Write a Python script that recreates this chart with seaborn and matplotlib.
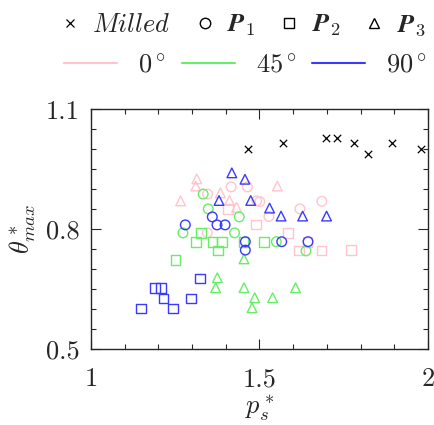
import numpy as np
import pandas as pd
import matplotlib
matplotlib.use('Agg')
import matplotlib.pyplot as plt
from matplotlib.lines import Line2D
from matplotlib.ticker import MultipleLocator, FixedLocator, FormatStrFormatter
import seaborn as sns

# Milled reference points
milled_x = [1.465, 1.571, 1.697, 1.730, 1.780, 1.822, 1.894, 1.978]
milled_y = [1.001, 1.016, 1.029, 1.029, 1.016, 0.988, 1.016, 1.001]

# P1 (circles)
p1_0_x = [1.346, 1.416, 1.464, 1.492, 1.501, 1.620, 1.685, 1.528, 1.345]
p1_0_y = [0.888, 0.906, 0.906, 0.871, 0.869, 0.851, 0.870, 0.832, 0.791]
p1_45_x = [1.333, 1.348, 1.440, 1.273, 1.426, 1.550, 1.638]
p1_45_y = [0.888, 0.851, 0.831, 0.791, 0.791, 0.769, 0.746]
p1_90_x = [1.360, 1.280, 1.374, 1.398, 1.458, 1.458, 1.566, 1.644]
p1_90_y = [0.831, 0.811, 0.811, 0.811, 0.769, 0.748, 0.769, 0.769]

# P2 (squares)
p2_0_x = [1.407, 1.490, 1.585, 1.618, 1.684, 1.772, 1.643]
p2_0_y = [0.851, 0.812, 0.791, 0.747, 0.747, 0.748, 0.769]
p2_45_x = [1.326, 1.312, 1.361, 1.389, 1.377, 1.251, 1.453, 1.514]
p2_45_y = [0.791, 0.769, 0.769, 0.769, 0.747, 0.724, 0.769, 0.769]
p2_90_x = [1.323, 1.191, 1.207, 1.215, 1.297, 1.149, 1.243]
p2_90_y = [0.677, 0.654, 0.654, 0.627, 0.627, 0.602, 0.602]

# P3 (triangles)
p3_0_x = [1.314, 1.311, 1.266, 1.384, 1.411, 1.432, 1.553]
p3_0_y = [0.926, 0.908, 0.871, 0.891, 0.872, 0.855, 0.908]
p3_45_x = [1.454, 1.375, 1.370, 1.454, 1.486, 1.539, 1.607, 1.478]
p3_45_y = [0.726, 0.679, 0.654, 0.654, 0.629, 0.629, 0.654, 0.604]
p3_90_x = [1.418, 1.457, 1.380, 1.474, 1.530, 1.564, 1.628, 1.699]
p3_90_y = [0.941, 0.925, 0.872, 0.872, 0.853, 0.833, 0.833, 0.833]

angles = ['0', '45', '90']
shapes = ['P1', 'P2', 'P3']
angle_colors = {'0': '#ffc4cc', '45': '#66ee66', '90': '#3a3aff'}
shape_markers = {'P1': 'o', 'P2': 's', 'P3': '^'}

groups = {
    ('P1', '0'): (p1_0_x, p1_0_y), ('P1', '45'): (p1_45_x, p1_45_y), ('P1', '90'): (p1_90_x, p1_90_y),
    ('P2', '0'): (p2_0_x, p2_0_y), ('P2', '45'): (p2_45_x, p2_45_y), ('P2', '90'): (p2_90_x, p2_90_y),
    ('P3', '0'): (p3_0_x, p3_0_y), ('P3', '45'): (p3_45_x, p3_45_y), ('P3', '90'): (p3_90_x, p3_90_y),
}

rows = []
for (shape, angle), (xs, ys) in groups.items():
    for xv, yv in zip(xs, ys):
        rows.append({'ps': xv, 'theta': yv, 'shape': shape, 'angle': angle})
df = pd.DataFrame(rows)

sns.set_style('ticks')
plt.rcParams['font.family'] = 'serif'
plt.rcParams['font.serif'] = ['cmr10', 'DejaVu Serif']
plt.rcParams['mathtext.fontset'] = 'cm'
plt.rcParams['axes.formatter.use_mathtext'] = True
plt.rcParams['axes.unicode_minus'] = False

fig = plt.figure(figsize=(4.35, 4.25), dpi=100)
ax = fig.add_axes([0.209, 0.178, 0.775, 0.565])

# angle order for drawing: 0 first, then 45, then 90
for angle in angles:
    for shape in shapes:
        sub = df[(df['shape'] == shape) & (df['angle'] == angle)]
        sns.scatterplot(data=sub, x='ps', y='theta', marker=shape_markers[shape], s=48,
                        color=angle_colors[angle], facecolors='none',
                        edgecolor=angle_colors[angle], linewidth=1.0, ax=ax, legend=False)

sns.scatterplot(x=milled_x, y=milled_y, marker='x', s=28, color='black', linewidth=0.9, ax=ax, legend=False)

ax.set_xlim(1, 2)
ax.set_ylim(0.5, 1.1)
ax.xaxis.set_major_locator(FixedLocator([1, 1.5, 2]))
ax.xaxis.set_minor_locator(MultipleLocator(0.1))
ax.yaxis.set_major_locator(FixedLocator([0.5, 0.8, 1.1]))
ax.yaxis.set_minor_locator(MultipleLocator(0.05))
ax.xaxis.set_major_formatter(FormatStrFormatter('%g'))
ax.yaxis.set_major_formatter(FormatStrFormatter('%g'))
ax.tick_params(which='both', direction='in', top=True, right=True, width=0.8, labelsize=19)
ax.tick_params(which='major', length=7)
ax.tick_params(which='minor', length=3.5)
ax.tick_params(axis='x', which='major', pad=13)
ax.tick_params(axis='y', which='major', pad=8)
for sp in ax.spines.values():
    sp.set_linewidth(1.0)

ax.set_xlabel(r'$p^*_s$', fontsize=19, labelpad=2)
ax.set_ylabel(r'$\theta^*_{max}$', fontsize=19, labelpad=6)

shape_handles = [
    Line2D([], [], marker='x', color='black', linestyle='none', markersize=6, markeredgewidth=0.9),
    Line2D([], [], marker='o', color='black', markerfacecolor='none', linestyle='none', markersize=7.5, markeredgewidth=1.0),
    Line2D([], [], marker='s', color='black', markerfacecolor='none', linestyle='none', markersize=6.5, markeredgewidth=1.0),
    Line2D([], [], marker='^', color='black', markerfacecolor='none', linestyle='none', markersize=7.5, markeredgewidth=1.0),
]
shape_labels = [r'$Milled$', r'$\boldsymbol{P}_{\mathbf{1}}$', r'$\boldsymbol{P}_{\mathbf{2}}$', r'$\boldsymbol{P}_{\mathbf{3}}$']
leg1 = fig.legend(shape_handles, shape_labels, loc='center', bbox_to_anchor=(0.56, 0.94), ncol=4,
                  frameon=False, fontsize=19, handlelength=0.6, handletextpad=0.55, columnspacing=1.0)

angle_handles = [Line2D([], [], color=angle_colors[a], linewidth=1.5) for a in angles]
angle_labels = [r'$0^\circ$', r'$45^\circ$', r'$90^\circ$']
leg2 = fig.legend(angle_handles, angle_labels, loc='center', bbox_to_anchor=(0.565, 0.847), ncol=3,
                  frameon=False, fontsize=19, handlelength=2.0, handletextpad=0.8, columnspacing=0.6)

fig.savefig('out.png', dpi=100)
